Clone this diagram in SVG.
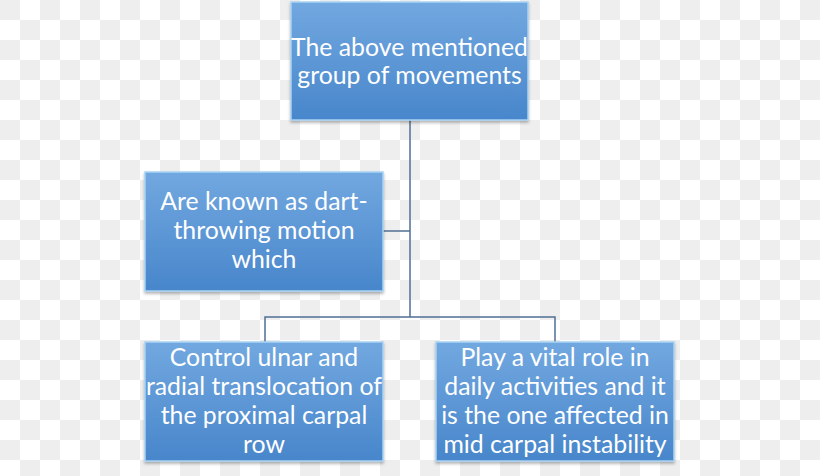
<svg xmlns="http://www.w3.org/2000/svg" width="820" height="476" viewBox="0 0 820 476">
<defs>
<pattern id="checker" width="40" height="40" patternUnits="userSpaceOnUse">
<rect width="40" height="40" fill="#ffffff"/>
<rect width="20" height="20" fill="#eeeeee"/>
<rect x="20" y="20" width="20" height="20" fill="#eeeeee"/>
</pattern>
<linearGradient id="boxg" x1="0" y1="0" x2="0" y2="1">
<stop offset="0" stop-color="#72a8e0"/>
<stop offset="1" stop-color="#4886cb"/>
</linearGradient>
<filter id="sh" x="-5%" y="-5%" width="110%" height="115%">
<feDropShadow dx="0" dy="2" stdDeviation="1.5" flood-color="#000" flood-opacity="0.3"/>
</filter>
</defs>
<style>
.box{fill:url(#boxg);stroke:#a9d2f3;stroke-width:1.5;filter:url(#sh)}
.t{font-family:Lato,"Open Sans",sans-serif;font-size:24.8px;fill:#ffffff;text-anchor:middle}
.c{fill:none;stroke:#4f6f94;stroke-width:1.5}
</style>
<rect width="820" height="476" fill="url(#checker)"/>
<g id="connectors">
<path class="c" d="M410 120 V317"/>
<path class="c" d="M383 231 H410"/>
<path class="c" d="M265 342 V317 H555 V342"/>
</g>
<g id="node-top">
<rect class="box" x="291" y="2" width="237" height="118"/>
<text class="t" x="409.5" y="56">The above mentioned</text>
<text class="t" x="409.5" y="84">group of movements</text>
</g>
<g id="node-middle">
<rect class="box" x="145" y="172" width="238" height="119"/>
<text class="t" x="264" y="210">Are known as dart-</text>
<text class="t" x="264" y="239">throwing motion</text>
<text class="t" x="264" y="268">which</text>
</g>
<g id="node-left">
<rect class="box" x="145" y="342" width="238" height="119"/>
<text class="t" x="264" y="366">Control ulnar and</text>
<text class="t" x="264" y="395">radial translocation of</text>
<text class="t" x="264" y="424">the proximal carpal</text>
<text class="t" x="264" y="453">row</text>
</g>
<g id="node-right">
<rect class="box" x="436" y="342" width="238" height="119"/>
<text class="t" x="555" y="366">Play a vital role in</text>
<text class="t" x="555" y="395">daily activities and it</text>
<text class="t" x="555" y="424">is the one affected in</text>
<text class="t" x="555" y="453">mid carpal instability</text>
</g>
</svg>
